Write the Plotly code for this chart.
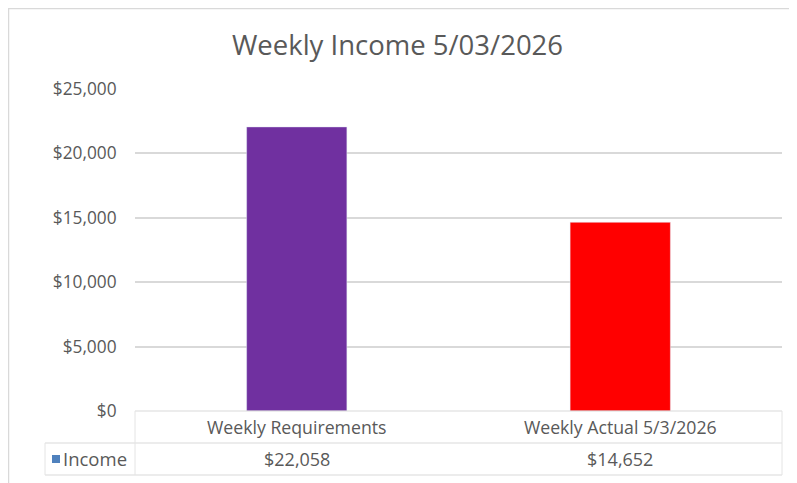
import plotly.graph_objects as go

categories = ["Weekly Requirements", "Weekly Actual 5/3/2026"]
income = [22058, 14652]
bar_colors = ["#7030A0", "#FF0000"]
series_name = "Income"
title_text = "Weekly Income 5/03/2026"
y_ticks = [0, 5000, 10000, 15000, 20000, 25000]
y_tick_labels = ["$0", "$5,000", "$10,000", "$15,000", "$20,000", "$25,000"]

# page body has an 8px margin: the figure canvas starts at (8, 8) in the window
OFF = 8
W, H = 797 - OFF, 483 - OFF
L, R, T, B = 135 - OFF, 782 - OFF, 89 - OFF, 411 - OFF
FONT = "Open Sans"
TXT = "#595959"
GRID = "#D9D9D9"


def px(x):
    return (x - OFF - L) / (R - L)


def py(y):
    return (B - (y - OFF)) / (B - T)


fig = go.Figure()
fig.add_trace(go.Bar(
    x=categories, y=income, marker_color=bar_colors, width=0.31,
    name=series_name, showlegend=False,
))

shapes = []
# outer chart border (right and bottom edges fall outside the picture)
shapes.append(dict(type="rect", xref="paper", yref="paper",
                   x0=px(8.5), x1=px(805), y0=py(495), y1=py(8.5),
                   line=dict(color="#D9D9D9", width=1.5), layer="below"))
# data table lines
for y, x0 in [(411, 135), (443, 45), (475, 45)]:
    shapes.append(dict(type="line", xref="paper", yref="paper",
                       x0=px(x0), x1=px(782), y0=py(y), y1=py(y),
                       line=dict(color=GRID, width=1)))
for x, y0 in [(135, 411), (45, 443), (782, 411)]:
    shapes.append(dict(type="line", xref="paper", yref="paper",
                       x0=px(x), x1=px(x), y0=py(y0), y1=py(475),
                       line=dict(color="#E4E4E4", width=1)))
# legend key
shapes.append(dict(type="rect", xref="paper", yref="paper",
                   x0=px(52), x1=px(60), y0=py(463), y1=py(455),
                   line=dict(width=0), fillcolor="#4F81BD"))

annotations = []
for c, v in zip(categories, income):
    annotations.append(dict(x=c, xref="x", y=py(458.5), yref="paper",
                            text=f"${v:,.0f}", showarrow=False,
                            font=dict(family=FONT, size=18, color=TXT),
                            xanchor="center", yanchor="middle"))
annotations.append(dict(x=px(61), xref="paper", y=py(458.5), yref="paper",
                        text=series_name, showarrow=False,
                        font=dict(family=FONT, size=18.5, color=TXT),
                        xanchor="left", yanchor="middle"))

fig.update_layout(
    width=W, height=H,
    margin=dict(l=L, r=W - R, t=T, b=H - B, pad=0),
    paper_bgcolor="white", plot_bgcolor="white",
    title=dict(text=title_text, x=(397.5 - OFF) / W, xref="container",
               xanchor="center",
               y=1 - (45 - OFF) / H, yref="container", yanchor="middle",
               font=dict(family=FONT, size=27.5, color=TXT)),
    font=dict(family=FONT, color=TXT),
    xaxis=dict(showgrid=False, showline=False, zeroline=False,
               tickfont=dict(family=FONT, size=17.7, color=TXT),
               ticks="outside", ticklen=1, tickcolor="rgba(0,0,0,0)"),
    yaxis=dict(range=[0, 25000], tickvals=y_ticks, ticktext=y_tick_labels,
               showgrid=True, gridcolor=GRID, gridwidth=1.5,
               zeroline=False, showline=False,
               tickfont=dict(family=FONT, size=17.3, color=TXT),
               ticks="outside", ticklen=14, tickcolor="rgba(0,0,0,0)"),
    shapes=shapes, annotations=annotations,
)

fig.write_html("out.html")
